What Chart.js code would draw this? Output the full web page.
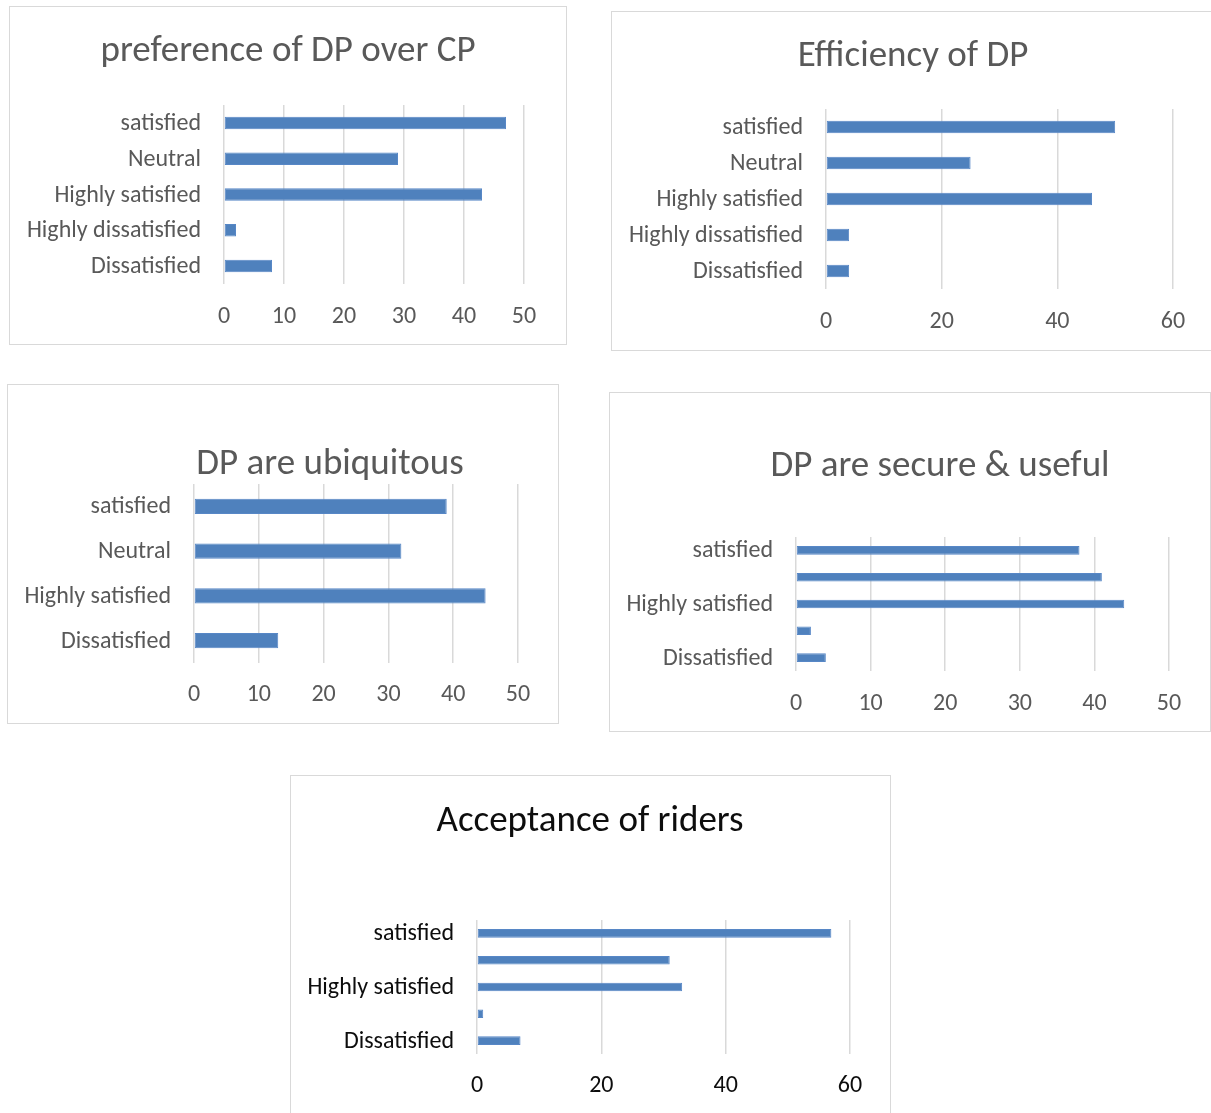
<!DOCTYPE html>
<html>
<head>
<meta charset="utf-8">
<script src="https://cdn.jsdelivr.net/npm/chart.js@4.4.1/dist/chart.umd.min.js"></script>
<style>
  html, body { margin: 0; padding: 0; background: #ffffff; }
  body { position: relative; width: 1211px; height: 1113px; overflow: hidden; }
  .frame { position: absolute; border: 1px solid #d9d9d9; box-sizing: border-box; pointer-events: none; }
  canvas.panel { position: absolute; }
</style>
</head>
<body>
<script>
// Survey answers, listed top to bottom as they appear on each chart
const categories = ['satisfied', 'Neutral', 'Highly satisfied', 'Highly dissatisfied', 'Dissatisfied'];
const categoriesUbiquitous = ['satisfied', 'Neutral', 'Highly satisfied', 'Dissatisfied'];

// Number of respondents per answer
const preferenceValues = [47, 29, 43, 2, 8];
const efficiencyValues = [50, 25, 46, 4, 4];
const ubiquitousValues = [39, 32, 45, 13];
const secureValues = [38, 41, 44, 2, 4];
const acceptanceValues = [57, 31, 33, 1, 7];

// Value axis extents
const axisMax50 = 50, axisStep10 = 10;
const axisMax60 = 60, axisStep20 = 20;

const FONT = 'Carlito, Calibri, Lato, sans-serif';
const GREY = '#595959';
const BLACK = '#0d0d0d';
const TICK_SIZE = 24;
const TITLE_SIZE = 37;

// Placement of each panel on the page: frame [x1,y1,x2,y2], plot area [x1,y1,x2,y2],
// title anchor (centre x, baseline y) and the centre line of the value labels
const panels = [
  { title: 'preference of DP over CP', labels: categories, values: preferenceValues,
    max: axisMax50, step: axisStep10, frame: [9, 6, 567, 345], plot: [224, 105, 524, 284],
    titleAt: [288, 61], tickY: 317, color: GREY, labelEvery: 1, bar: 0.35 },
  { title: 'Efficiency of DP', labels: categories, values: efficiencyValues,
    max: axisMax60, step: axisStep20, frame: [611, 11, 1216, 351], plot: [826, 109, 1173, 289],
    titleAt: [913, 66], tickY: 322, color: GREY, labelEvery: 1, bar: 0.35 },
  { title: 'DP are ubiquitous', labels: categoriesUbiquitous, values: ubiquitousValues,
    max: axisMax50, step: axisStep10, frame: [7, 384, 559, 724], plot: [194, 484, 518, 663],
    titleAt: [330, 474], tickY: 695, color: GREY, labelEvery: 1, bar: 0.34 },
  { title: 'DP are secure & useful', labels: categories, values: secureValues,
    max: axisMax50, step: axisStep10, frame: [609, 392, 1211, 732], plot: [796, 537, 1169, 671],
    titleAt: [940, 476], tickY: 704, color: GREY, labelEvery: 2, bar: 0.32 },
  { title: 'Acceptance of riders', labels: categories, values: acceptanceValues,
    max: axisMax60, step: axisStep20, frame: [290, 775, 891, 1118], plot: [477, 920, 850, 1054],
    titleAt: [590, 831], tickY: 1086, color: BLACK, labelEvery: 2, bar: 0.32 }
];

// Draws the chart heading at a fixed anchor inside the canvas
const placedTitle = {
  id: 'placedTitle',
  afterDraw(chart, args, opts) {
    const ctx = chart.ctx;
    ctx.save();
    ctx.font = opts.size + 'px ' + FONT;
    ctx.fillStyle = opts.color;
    ctx.textAlign = 'center';
    ctx.textBaseline = 'alphabetic';
    ctx.fillText(opts.text, opts.x, opts.y);
    ctx.restore();
  }
};

panels.forEach(function (p) {
  const [fx1, fy1, fx2, fy2] = p.frame;
  const [px1, py1, px2, py2] = p.plot;
  const w = fx2 - fx1, h = fy2 - fy1;

  const canvas = document.createElement('canvas');
  canvas.className = 'panel';
  canvas.width = w; canvas.height = h;
  canvas.style.left = fx1 + 'px'; canvas.style.top = fy1 + 'px';
  canvas.style.width = w + 'px'; canvas.style.height = h + 'px';
  document.body.appendChild(canvas);

  const frame = document.createElement('div');
  frame.className = 'frame';
  frame.style.left = fx1 + 'px'; frame.style.top = fy1 + 'px';
  frame.style.width = w + 'px'; frame.style.height = h + 'px';
  document.body.appendChild(frame);

  const bottomPad = 4;
  const xAxisHeight = fy2 - py2 - bottomPad;
  const yAxisWidth = px1 - fx1;
  const tickPad = p.tickY - py2 - TICK_SIZE * 1.2 / 2;
  const n = p.labels.length;

  new Chart(canvas, {
    type: 'bar',
    data: {
      labels: p.labels,
      datasets: [{
        data: p.values,
        backgroundColor: '#4f81bd',
        borderColor: '#5787c6',
        borderWidth: 1,
        borderSkipped: false,
        barPercentage: p.bar,
        categoryPercentage: 1
      }]
    },
    plugins: [placedTitle],
    options: {
      indexAxis: 'y',
      responsive: false,
      animation: false,
      devicePixelRatio: 1,
      layout: { padding: { left: 0, top: py1 - fy1, right: fx2 - px2, bottom: bottomPad } },
      plugins: {
        legend: { display: false },
        tooltip: { enabled: false },
        title: { display: false },
        placedTitle: { text: p.title, x: p.titleAt[0] - fx1, y: p.titleAt[1] - fy1, size: TITLE_SIZE, color: p.color }
      },
      scales: {
        x: {
          min: 0, max: p.max,
          ticks: { stepSize: p.step, color: p.color, padding: tickPad, font: { family: FONT, size: TICK_SIZE } },
          grid: { color: '#d9d9d9', lineWidth: 1.5, drawTicks: false },
          border: { display: false },
          afterFit(scale) { scale.height = xAxisHeight; }
        },
        y: {
          ticks: {
            color: p.color, padding: 23, autoSkip: false, labelOffset: 1,
            font: { family: FONT, size: TICK_SIZE },
            // labels are shown at a fixed interval counted from the bottom category
            callback(value, index) { return (n - 1 - index) % p.labelEvery === 0 ? this.getLabelForValue(value) : ''; }
          },
          grid: { display: false, drawTicks: false },
          border: { display: false },
          afterFit(scale) { scale.width = yAxisWidth; }
        }
      }
    }
  });
});
</script>
</body>
</html>
